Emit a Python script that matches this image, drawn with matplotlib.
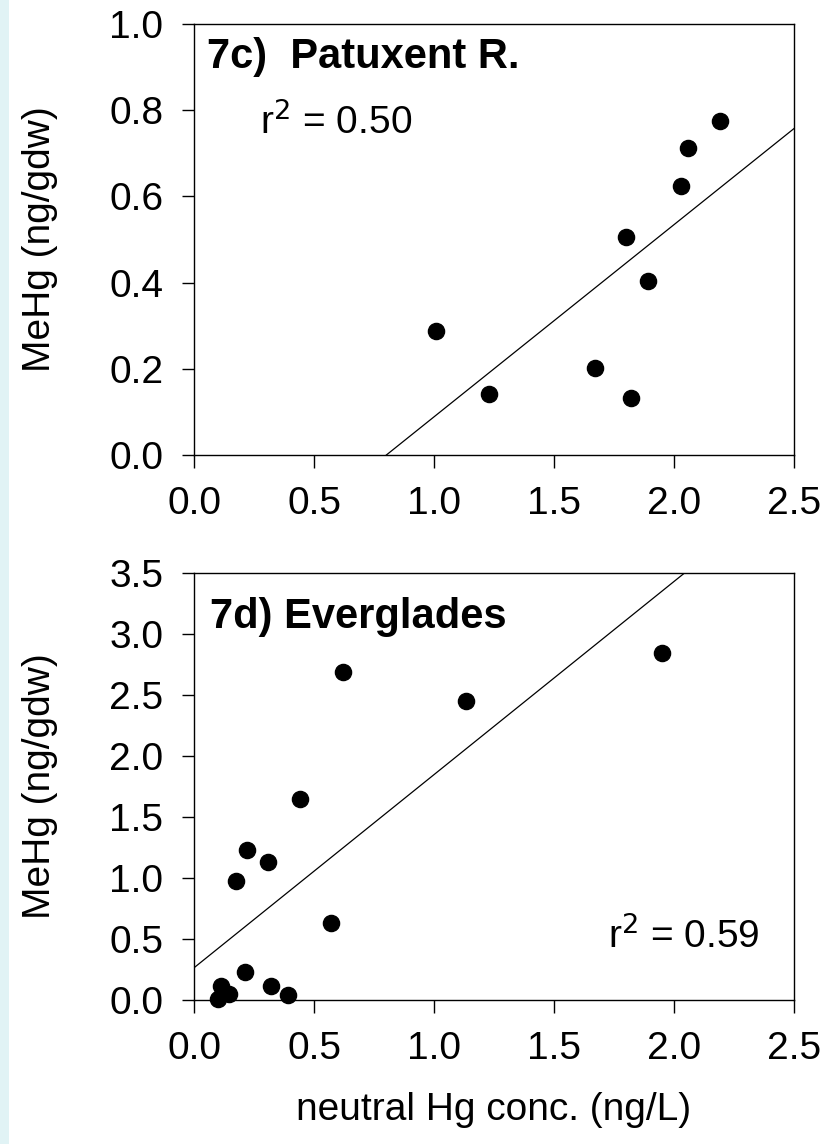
import numpy as np
import matplotlib
matplotlib.use('Agg')
import matplotlib.pyplot as plt
from matplotlib.patches import Rectangle

plt.rcParams['font.family'] = ['Liberation Sans', 'DejaVu Sans']

# 7c) Patuxent R.
pax_x = [1.01, 1.23, 1.67, 1.80, 1.82, 1.89, 2.03, 2.06, 2.19]
pax_y = [0.288, 0.142, 0.202, 0.506, 0.132, 0.403, 0.624, 0.712, 0.774]
pax_fit = (0.446, -0.3575)   # slope, intercept
pax_r2 = "0.50"

# 7d) Everglades
evg_x = [0.10, 0.113, 0.146, 0.173, 0.211, 0.222, 0.31, 0.321, 0.392, 0.441, 0.57, 0.621, 1.132, 1.951]
evg_y = [0.005, 0.114, 0.046, 0.979, 0.229, 1.232, 1.131, 0.114, 0.038, 1.646, 0.632, 2.688, 2.448, 2.846]
evg_fit = (1.583, 0.264)
evg_r2 = "0.59"

xticks = [0.0, 0.5, 1.0, 1.5, 2.0, 2.5]
yticks_top = [0.0, 0.2, 0.4, 0.6, 0.8, 1.0]
yticks_bot = [0.0, 0.5, 1.0, 1.5, 2.0, 2.5, 3.0, 3.5]

FS = 28

fig = plt.figure(figsize=(8.36, 11.44), dpi=100)
fig.patches.append(Rectangle((0, 0), 9 / 836, 1, transform=fig.transFigure,
                             facecolor='#e1f3f5', edgecolor='none', zorder=0))

ax1 = fig.add_axes([0.2321, 0.6023, 0.7177, 0.3767])
ax2 = fig.add_axes([0.2321, 0.1259, 0.7177, 0.3733])


def style(ax, yticks, ymax):
    ax.set_xlim(0, 2.5)
    ax.set_ylim(0, ymax)
    ax.set_xticks(xticks)
    ax.set_xticklabels([f"{t:.1f}" for t in xticks])
    ax.set_yticks(yticks)
    ax.set_yticklabels([f"{t:.1f}" for t in yticks])
    ax.tick_params(direction='out', length=9, width=1.0, labelsize=FS, color='black', pad=13)
    for s in ax.spines.values():
        s.set_linewidth(1.0)


style(ax1, yticks_top, 1.0)
ax1.scatter(pax_x, pax_y, s=135, color='black', zorder=3, clip_on=False)
xl = np.array([0, 2.5])
ax1.plot(xl, pax_fit[0] * xl + pax_fit[1], color='black', lw=0.9)
ax1.text(0.022, 0.898, '7c)  Patuxent R.', transform=ax1.transAxes, fontsize=30,
         fontweight='bold', va='baseline', ha='left')
ax1.text(0.11, 0.745, r'r$^2$ = ' + pax_r2, transform=ax1.transAxes, fontsize=FS,
         va='baseline', ha='left')

style(ax2, yticks_bot, 3.5)
ax2.scatter(evg_x, evg_y, s=135, color='black', zorder=3, clip_on=False)
ax2.plot(xl, evg_fit[0] * xl + evg_fit[1], color='black', lw=0.9)
ax2.text(0.027, 0.870, '7d) Everglades', transform=ax2.transAxes, fontsize=30,
         fontweight='bold', va='baseline', ha='left')
ax2.text(0.942, 0.122, r'r$^2$ = ' + evg_r2, transform=ax2.transAxes, fontsize=FS,
         va='baseline', ha='right')

# axis titles
fig.text(40 / 836, 0.7906, 'MeHg (ng/gdw)', rotation=90, fontsize=FS, ha='center', va='center')
fig.text(40 / 836, 0.3125, 'MeHg (ng/gdw)', rotation=90, fontsize=FS, ha='center', va='center')
fig.text(494 / 836, 1 - 1110 / 1144, 'neutral Hg conc. (ng/L)', fontsize=FS, ha='center', va='center')

fig.savefig('out.png', dpi=100)
